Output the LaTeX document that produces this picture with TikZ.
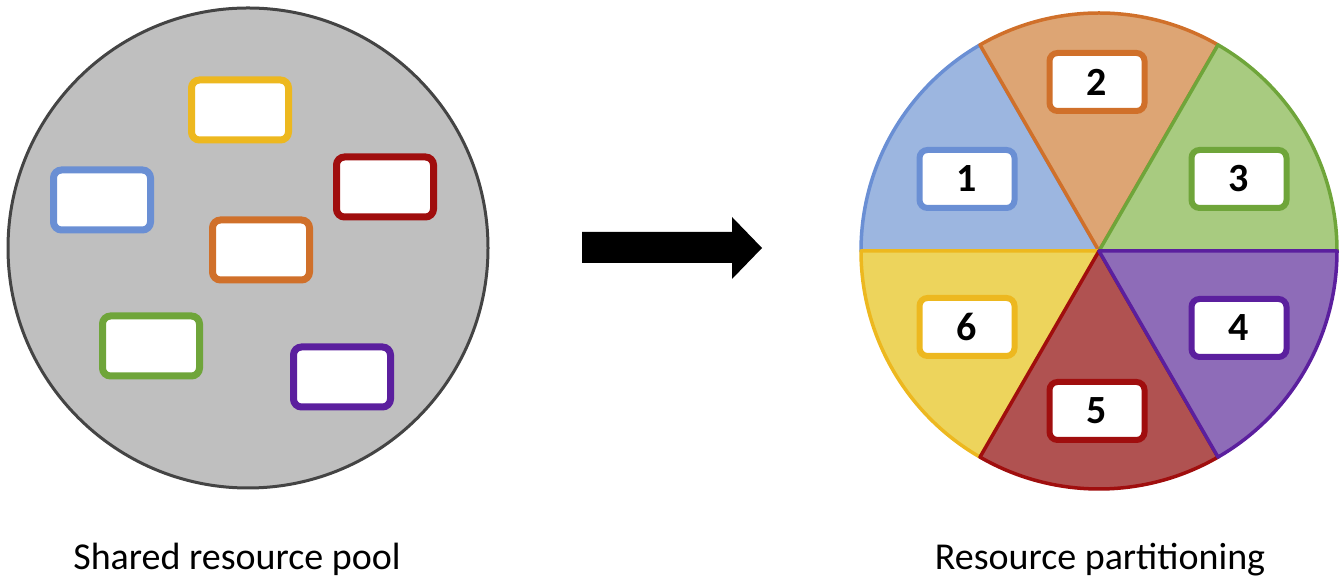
\documentclass[tikz,border=0pt]{standalone}
\usepackage{fontspec}
\setmainfont{Carlito}
\definecolor{cBlue}{HTML}{6A8FD4}
\definecolor{cOrange}{HTML}{D0702A}
\definecolor{cGreen}{HTML}{6FA53A}
\definecolor{cPurple}{HTML}{5B1F9E}
\definecolor{cRed}{HTML}{A00E0E}
\definecolor{cYellow}{HTML}{EDB81F}
\definecolor{fBlue}{HTML}{9CB6E0}
\definecolor{fOrange}{HTML}{DDA574}
\definecolor{fGreen}{HTML}{A8CB80}
\definecolor{fPurple}{HTML}{8E6CB8}
\definecolor{fRed}{HTML}{B05251}
\definecolor{fYellow}{HTML}{EDD45C}
\definecolor{poolGray}{HTML}{BFBFBF}
\definecolor{poolEdge}{HTML}{444444}
\tikzset{
  poolbox/.style={draw=#1, fill=white, line width=7pt, rounded corners=8pt,
    minimum width=97pt, minimum height=60pt, inner sep=0pt},
  partbox/.style={draw=#1, fill=white, line width=6pt, rounded corners=8pt,
    minimum width=95pt, minimum height=58pt, inner sep=0pt,
    font=\fontsize{40}{44}\selectfont\bfseries},
  caption/.style={font=\fontsize{38}{44}\selectfont, anchor=base, inner sep=0pt},
  sector/.style={fill=#1, line width=3.5pt, line join=round},
}
\begin{document}
\begin{tikzpicture}[x=1pt,y=1pt]
\useasboundingbox (0,0) rectangle (1344,585);
% left pool
\node[circle, draw=poolEdge, fill=poolGray, line width=3pt, minimum size=480pt, inner sep=0pt] (pool) at (248,337) {};
\node[poolbox=cYellow] (py) at (240,475) {};
\node[poolbox=cBlue] (pb) at (102,385) {};
\node[poolbox=cRed] (pr) at (385,398) {};
\node[poolbox=cOrange] (po) at (261,335) {};
\node[poolbox=cGreen] (pg) at (151,239) {};
\node[poolbox=cPurple] (pp) at (342,208) {};
% arrow
\fill[black] (582,322) -- (732,322) -- (732,306) -- (762,337) -- (732,368) -- (732,353) -- (582,353) -- cycle;
% pie
\coordinate (c) at (1099,334);
\def\R{238}
\filldraw[sector=fBlue, draw=cBlue] (c) -- ++(120:\R) arc[start angle=120, end angle=180, radius=\R] -- cycle;
\filldraw[sector=fOrange, draw=cOrange] (c) -- ++(60:\R) arc[start angle=60, end angle=120, radius=\R] -- cycle;
\filldraw[sector=fGreen, draw=cGreen] (c) -- ++(0:\R) arc[start angle=0, end angle=60, radius=\R] -- cycle;
\filldraw[sector=fYellow, draw=cYellow] (c) -- ++(180:\R) arc[start angle=180, end angle=240, radius=\R] -- cycle;
\filldraw[sector=fRed, draw=cRed] (c) -- ++(240:\R) arc[start angle=240, end angle=300, radius=\R] -- cycle;
\filldraw[sector=fPurple, draw=cPurple] (c) -- ++(300:\R) arc[start angle=300, end angle=360, radius=\R] -- cycle;
\node[partbox=cOrange] (b2) at (1097,503) {2};
\node[partbox=cBlue] (b1) at (967,406) {1};
\node[partbox=cGreen] (b3) at (1239,406) {3};
\node[partbox=cYellow] (b6) at (967,258) {6};
\node[partbox=cPurple] (b4) at (1239,257) {4};
\node[partbox=cRed] (b5) at (1097,174) {5};
% captions
\node[caption] (cl) at (237,15) {Shared resource pool};
\node[caption] (cr) at (1100,15) {Resource partitioning};
\end{tikzpicture}
\end{document}
